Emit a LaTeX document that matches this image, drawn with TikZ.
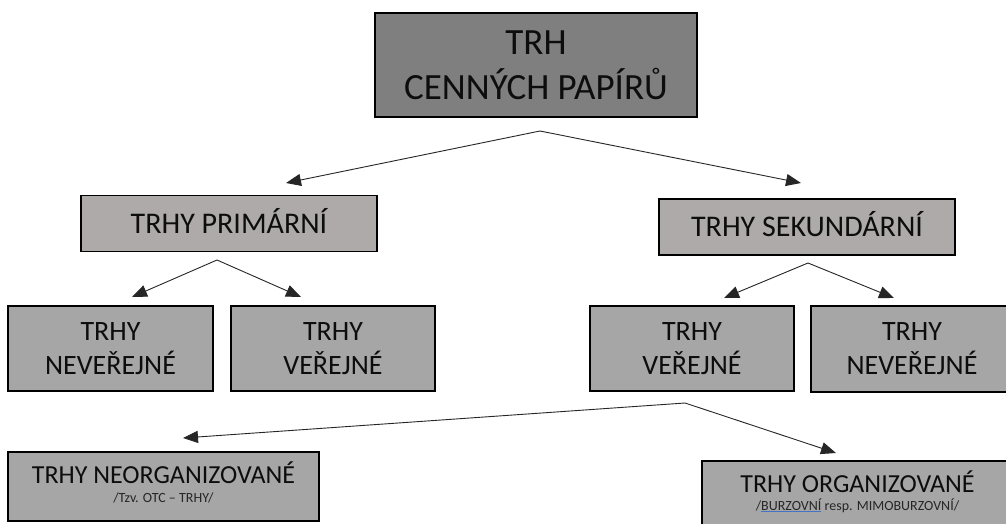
\documentclass[tikz,border=0pt]{standalone}
\usepackage{fontspec}
\setmainfont{Carlito}
\usetikzlibrary{arrows.meta}
\definecolor{topgray}{HTML}{7F7F7F}
\definecolor{midgray}{HTML}{AEAAAA}
\definecolor{lowgray}{HTML}{A6A6A6}
\definecolor{uline}{HTML}{4472C4}
\tikzset{
  box/.style={draw=black, line width=1.3pt, inner sep=0pt, align=center, text=black!95},
  topbox/.style={box, fill=topgray, minimum width=322pt, minimum height=104pt,
    font=\fontsize{37}{45}\selectfont},
  midbox/.style={box, fill=midgray, minimum width=296pt, minimum height=56pt,
    font=\fontsize{30}{36}\selectfont, text height=19.5pt, text depth=0pt},
  lowbox/.style={box, fill=lowgray, minimum height=85pt,
    font=\fontsize{28}{34}\selectfont},
  botbox/.style={box, fill=lowgray, minimum height=69pt},
  title/.style={anchor=base, inner sep=0pt, font=\fontsize{26}{30}\selectfont, text=black!95},
  sub/.style={anchor=base, inner sep=0pt, font=\fontsize{14}{16}\selectfont, text=black!85},
  arr/.style={draw=black!85, line width=0.9pt, -{Triangle[length=15pt,width=12pt]}},
}
\begin{document}
\begin{tikzpicture}[x=1pt,y=-1pt]
\useasboundingbox (0,0) rectangle (1006,524);
\clip (0,0) rectangle (1006,524);
\fill[white] (0,0) rectangle (1006,524);

% boxes
\node[topbox] (top) at (536,65) {TRH\\CENNÝCH PAPÍRŮ};
\node[midbox] (prim) at (229,223.5) {TRHY PRIMÁRNÍ};
\node[midbox] (sek) at (807,227) {TRHY SEKUNDÁRNÍ};
\node[lowbox, minimum width=205pt] (pnev) at (110.5,348.5) {TRHY\\NEVEŘEJNÉ};
\node[lowbox, minimum width=204pt] (pver) at (333,348.5) {TRHY\\VEŘEJNÉ};
\node[lowbox, minimum width=204pt] (sver) at (692,348.5) {TRHY\\VEŘEJNÉ};
\node[lowbox, minimum width=202pt, minimum height=86pt] (snev) at (912,349) {TRHY\\NEVEŘEJNÉ};
\node[botbox, minimum width=311pt] (neo) at (163.5,486.5) {};
\node[title] (neot) at (163.5,483) {TRHY NEORGANIZOVANÉ};
\node[sub] (neos) at (163.5,502) {/Tzv. OTC – TRHY/};
\node[botbox, minimum width=311pt] (org) at (857.5,495.5) {};
\node[title] (orgt) at (857.5,492) {TRHY ORGANIZOVANÉ};
\node[sub] (orgs) at (857.5,510) {/{\color{uline}\rlap{\underline{\phantom{BURZOVNÍ}}}}BURZOVNÍ resp. MIMOBURZOVNÍ/};

% connector points
\coordinate (s1) at (540,131);
\coordinate (e1a) at (286,183);
\coordinate (e1b) at (801,183);
\coordinate (s2) at (217,260);
\coordinate (e2a) at (132,297);
\coordinate (e2b) at (301,297);
\coordinate (s3) at (808,263);
\coordinate (e3a) at (724,298);
\coordinate (e3b) at (894,298);
\coordinate (s4) at (685,403);
\coordinate (e4a) at (183,438);
\coordinate (e4b) at (836,453);

\draw[arr] (s1) -- (e1a);
\draw[arr] (s1) -- (e1b);
\draw[arr] (s2) -- (e2a);
\draw[arr] (s2) -- (e2b);
\draw[arr] (s3) -- (e3a);
\draw[arr] (s3) -- (e3b);
\draw[arr] (s4) -- (e4a);
\draw[arr] (s4) -- (e4b);
\end{tikzpicture}
\end{document}
